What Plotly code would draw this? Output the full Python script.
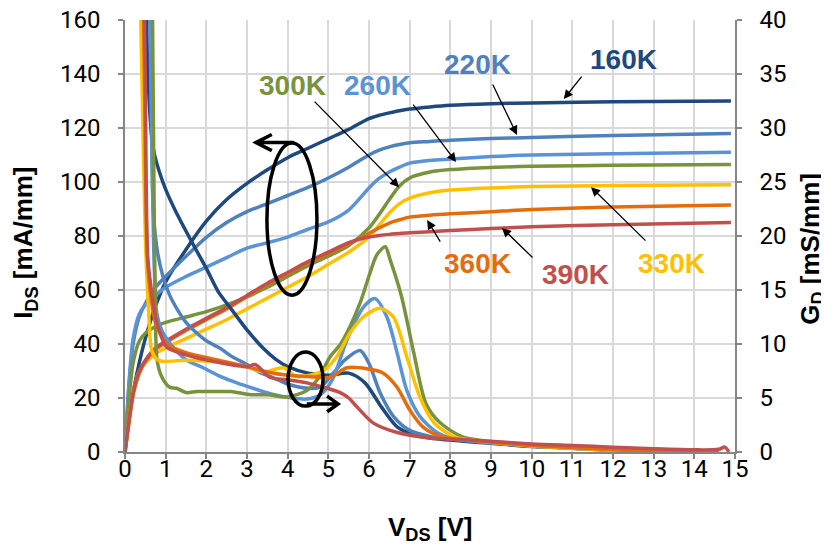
import plotly.graph_objects as go

# ---------------- data ----------------
temps = ["160K", "220K", "260K", "300K", "330K", "360K", "390K"]
colors = ["#1F497D", "#4F81BD", "#5B93D6", "#77933C", "#FFC000", "#E46C0A", "#C0504D"]

V_IDS = [0, 0.1, 0.2, 0.35, 0.5, 0.75, 1, 1.5, 2, 2.5, 3, 3.5, 4, 4.5, 5, 5.5, 6,
         6.25, 6.5, 6.75, 7, 7.5, 8, 9, 10, 12, 14.9]
IDS_160K = [0, 12, 22, 33, 42, 54, 63, 75, 85.5, 93.5, 99.5, 104.5, 109, 112.5, 116, 119.5, 123.5,
            124.7, 125.6, 126.4, 127, 127.8, 128.4, 129, 129.3, 129.7, 130]
IDS_220K = [0, 25, 40, 50, 55, 61, 65, 72.5, 79.5, 85, 89, 92, 95, 98, 101.5, 105.5, 110,
            111.8, 113, 113.9, 114.5, 115, 115.5, 116.1, 116.5, 117.2, 118]
IDS_260K = [0, 26, 42, 51, 54.5, 58, 61, 65, 68.5, 72, 75.5, 77.5, 79.6, 82.5, 85.2, 89.6, 97.8,
            101.3, 103.7, 105.5, 107, 108, 108.5, 109.4, 110, 110.5, 111]
IDS_300K = [0, 20, 33, 41, 44, 46.5, 48, 50, 52, 54.5, 57.5, 61, 65, 69, 72.5, 76.5, 83,
            88, 93.5, 98.5, 101.5, 103.7, 104.6, 105.4, 105.8, 106.2, 106.5]
IDS_330K = [0, 12, 22, 30, 33, 36.5, 38.5, 42, 45.5, 49, 53, 57, 61, 65, 69.5, 74, 79.6,
            84, 88.5, 92, 94, 96, 97, 97.8, 98.3, 98.7, 99]
IDS_360K = [0, 11, 21, 29, 33.5, 38, 40.5, 45, 49, 53, 57.5, 62, 66, 70, 73.5, 77, 81,
            83, 84.8, 86, 87, 87.7, 88.2, 89, 89.8, 90.7, 91.5]
IDS_390K = [0, 12, 22, 30, 34, 38.5, 41, 45.5, 49.5, 53.5, 58, 62.5, 66.5, 70.5, 74, 77.5, 79.6,
            80.2, 80.6, 80.9, 81.2, 81.6, 82, 82.8, 83.4, 84.2, 85]

GD_160K_V = [0.5, 0.57, 0.69, 0.93, 1.23, 1.65, 2.0, 2.3, 2.6, 3.0, 3.4, 3.7, 4.0, 4.5, 5.0, 5.5,
             5.9, 6.3, 6.7, 7.1, 7.5, 8, 9, 10, 11, 12, 13, 14, 14.6]
GD_160K = [48, 34.4, 28.2, 25, 22.4, 19.4, 17, 14.8, 13.3, 11.3, 9.6, 8.6, 7.9, 7.3, 7.1, 7.3,
           6.4, 4.2, 2.3, 1.6, 1.3, 1.1, 0.8, 0.5, 0.35, 0.15, 0.0, -0.1, 0.0]

GD_220K_V = [0.58, 0.62, 0.66, 0.7, 0.8, 0.93, 1.1, 1.27, 1.5, 1.77, 2.0, 2.34, 2.6, 3.0, 3.3, 3.57,
             4.0, 4.5, 4.8, 5.1, 5.4, 5.78, 6.0, 6.27, 6.6, 7.0, 7.5, 8, 9, 10, 11, 12, 13, 14, 14.6]
GD_220K = [48, 38, 28, 22, 18.5, 16.3, 14.5, 13.3, 12, 11, 10.3, 9.6, 8.9, 8.1, 7.4, 7.0,
           6.3, 5.9, 6.0, 7.2, 8.5, 9.4, 8.2, 5.5, 3.3, 2.0, 1.45, 1.2, 0.85, 0.55, 0.35, 0.15, 0.05, 0.0, 0.0]

GD_260K_V = [0.6, 0.64, 0.68, 0.72, 0.78, 0.9, 1.1, 1.3, 1.52, 1.92, 2.34, 2.75, 3.15, 3.57, 4.1,
             4.47, 4.8, 5.1, 5.46, 5.86, 6.15, 6.44, 6.69, 6.93, 7.25, 7.67, 8, 9, 10, 11, 12, 13, 14, 14.6]
GD_260K = [48, 35, 24, 17, 12.9, 11.3, 10.1, 9.2, 8.5, 7.8, 7.0, 6.4, 5.9, 5.4, 5.0,
           4.9, 5.3, 6.7, 10.4, 13.4, 14.2, 12.5, 9.2, 5.7, 3.3, 1.8, 1.3, 0.85, 0.55, 0.35, 0.15, 0.05, 0.0, 0.0]

GD_300K_V = [0.66, 0.7, 0.74, 0.79, 0.9, 1.1, 1.27, 1.5, 1.77, 2.3, 2.6, 3.1, 3.5, 4.0, 4.47, 4.75,
             5.04, 5.3, 5.53, 5.8, 6.0, 6.2, 6.4, 6.52, 6.8, 7.1, 7.4, 7.75, 8.3, 9, 10, 11, 12, 13, 14, 14.6]
GD_300K = [48, 30, 15, 8.5, 7.0, 6.0, 5.9, 5.5, 5.6, 5.6, 5.6, 5.3, 5.3, 5.1, 5.7, 6.8,
           8.8, 10.0, 11.6, 14.0, 16.3, 18.3, 19.0, 17.8, 14.4, 9.2, 4.5, 2.7, 1.4, 0.95, 0.6, 0.4, 0.2, 0.1, 0.05, 0.05]

GD_330K_V = [0.36, 0.42, 0.5, 0.58, 0.65, 0.75, 0.9, 1.5, 2.3, 3.0, 3.4, 3.9, 4.2, 4.55, 4.9, 5.2,
             5.53, 5.86, 6.27, 6.6, 6.93, 7.25, 7.6, 8.1, 9, 10, 11, 12, 13, 14, 14.6]
GD_330K = [45, 34, 20, 13, 9.5, 8.7, 8.4, 8.5, 8.3, 7.9, 7.4, 7.8, 7.0, 7.1, 7.6, 8.8,
           11, 12.5, 13.3, 12.5, 8.8, 5.1, 2.7, 1.4, 0.9, 0.55, 0.35, 0.15, 0.05, 0.0, 0.0]

GD_360K_V = [0.44, 0.48, 0.55, 0.65, 0.75, 1.03, 1.5, 2.3, 3.0, 3.5, 4.0, 4.5, 5.04, 5.46, 5.95, 6.35,
             6.69, 7.0, 7.33, 7.8, 8.5, 9, 10, 11, 12, 13, 14, 14.6]
GD_360K = [45, 34, 18, 14, 12, 10, 9.2, 8.5, 7.9, 7.4, 7.1, 7.0, 6.9, 7.8, 7.7, 7.3,
           6.0, 3.9, 2.3, 1.4, 1.1, 0.9, 0.6, 0.4, 0.2, 0.1, 0.05, 0.05]

GD_390K_V = [0.46, 0.5, 0.56, 0.65, 0.75, 0.82, 1.03, 1.5, 2.3, 3.0, 3.2, 3.57, 3.98, 4.47, 4.97,
             5.29, 5.5, 5.7, 6.1, 6.7, 7.5, 8, 9, 10, 11, 12, 13, 14, 14.6, 14.75, 14.85]
GD_390K = [45, 34, 18, 15, 12.5, 11.5, 9.7, 9.0, 8.3, 7.9, 8.1, 6.9, 6.7, 6.4, 5.9,
           5.5, 5.0, 4.2, 2.7, 1.8, 1.3, 1.2, 1.0, 0.75, 0.6, 0.45, 0.3, 0.2, 0.25, 0.45, 0.0]

IDS_series = [IDS_160K, IDS_220K, IDS_260K, IDS_300K, IDS_330K, IDS_360K, IDS_390K]
GD_series = [(GD_160K_V, GD_160K), (GD_220K_V, GD_220K), (GD_260K_V, GD_260K), (GD_300K_V, GD_300K),
             (GD_330K_V, GD_330K), (GD_360K_V, GD_360K), (GD_390K_V, GD_390K)]

x_ticks = list(range(0, 16))
left_ticks = list(range(0, 161, 20))
right_ticks = list(range(0, 41, 5))

# ---------------- figure ----------------
fig = go.Figure()
for name, col, ys in zip(temps, colors, IDS_series):
    fig.add_trace(go.Scatter(x=V_IDS, y=ys, mode="lines", name=f"IDS {name}",
                             line=dict(color=col, width=3.5, shape="spline", smoothing=0.8),
                             yaxis="y"))
for name, col, (xs, ys) in zip(temps, colors, GD_series):
    fig.add_trace(go.Scatter(x=xs, y=ys, mode="lines", name=f"GD {name}",
                             line=dict(color=col, width=3.5, shape="spline", smoothing=0.8),
                             yaxis="y2"))

tickfont = dict(family="Roboto, 'Open Sans', sans-serif", size=24, color="#000000")
titlefont = dict(family="'Liberation Sans', Arial, sans-serif", size=26, color="#000000")
axis_common = dict(showline=True, linecolor="#868686", linewidth=1.5,
                   ticks="outside", ticklen=5, tickcolor="#868686", tickwidth=1.5,
                   tickfont=tickfont, zeroline=False, automargin=False,
                   ticklabeloverflow="allow")

fig.update_layout(
    width=829, height=545,
    margin=dict(l=117, r=102, t=12, b=101, autoexpand=False),
    paper_bgcolor="white", plot_bgcolor="white",
    showlegend=False,
    xaxis=dict(range=[0, 15], tickvals=x_ticks, ticktext=[str(v) for v in x_ticks],
               showgrid=True, gridcolor="#D9D9D9", gridwidth=1.5,
               ticklabelstandoff=-11, **axis_common),
    yaxis=dict(range=[0, 160], tickvals=left_ticks, ticktext=[str(v) for v in left_ticks],
               showgrid=True, gridcolor="#D9D9D9", gridwidth=1.5,
               ticklabelstandoff=13, **axis_common),
    yaxis2=dict(range=[0, 40], tickvals=right_ticks, ticktext=[str(v) for v in right_ticks],
                overlaying="y", side="right", showgrid=False,
                ticklabelstandoff=13, **axis_common),
)

# axis titles
fig.add_annotation(xref="paper", yref="paper", x=0.5, y=-0.176, text="<b>V<sub>DS</sub> [V]</b>",
                   showarrow=False, font=titlefont, xanchor="center", yanchor="middle")
fig.add_annotation(xref="paper", yref="paper", x=-0.164, y=0.484, text="<b>I<sub>DS</sub> [mA/mm]</b>",
                   showarrow=False, font=titlefont, textangle=-90, xanchor="center", yanchor="middle")
fig.add_annotation(xref="paper", yref="paper", x=1.126, y=0.47, text="<b>G<sub>D</sub> [mS/mm]</b>",
                   showarrow=False, font=titlefont, textangle=-90, xanchor="center", yanchor="middle")

# ---------------- annotations ----------------
labelfont = "'Liberation Sans', Arial, sans-serif"
labels = [
    ("160K", 12.27, 145.2, colors[0]),
    ("220K", 8.68, 143.7, colors[1]),
    ("260K", 6.22, 135.9, colors[2]),
    ("300K", 4.11, 135.9, colors[3]),
    ("330K", 13.45, 70.0, colors[4]),
    ("360K", 8.66, 70.0, colors[5]),
    ("390K", 11.07, 65.6, colors[6]),
]
for txt, x, y, c in labels:
    fig.add_annotation(x=x, y=y, xref="x", yref="y", text=f"<b>{txt}</b>", showarrow=False,
                       font=dict(family=labelfont, size=28, color=c))

arrows = [  # tip (data), tail offset (px)
    (10.79, 130.7, 19, -24),
    (9.64, 117.4, -25, -52),
    (8.14, 107.4, -44, -59),
    (6.74, 98.1, -86, -87),
    (7.43, 85.9, 14, 23),
    (9.27, 83.0, 32, 31),
    (11.46, 98.1, 56, 55),
]
for x, y, ax, ay in arrows:
    fig.add_annotation(x=x, y=y, xref="x", yref="y", ax=ax, ay=ay, text="",
                       showarrow=True, arrowhead=2, arrowsize=1.4, arrowwidth=1.3,
                       arrowcolor="black", standoff=0)

# ellipses and their arrows
fig.add_shape(type="circle", xref="x", yref="y", x0=3.49, x1=4.72, y0=58.1, y1=114.4,
              line=dict(color="black", width=3.5))
fig.add_shape(type="circle", xref="x", yref="y", x0=4.01, x1=4.87, y0=17.0, y1=37.0,
              line=dict(color="black", width=3.5))
fig.add_shape(type="path", xref="x", yref="y",
              path="M 4.15,114.6 L 3.22,114.6 M 3.61,117.6 L 3.22,114.6 L 3.61,111.6",
              line=dict(color="black", width=3.5))
fig.add_shape(type="path", xref="x", yref="y",
              path="M 4.47,17.8 L 5.24,17.8 M 4.97,20.7 L 5.24,17.8 L 4.97,14.9",
              line=dict(color="black", width=3.5))

fig.write_html("out.html")
